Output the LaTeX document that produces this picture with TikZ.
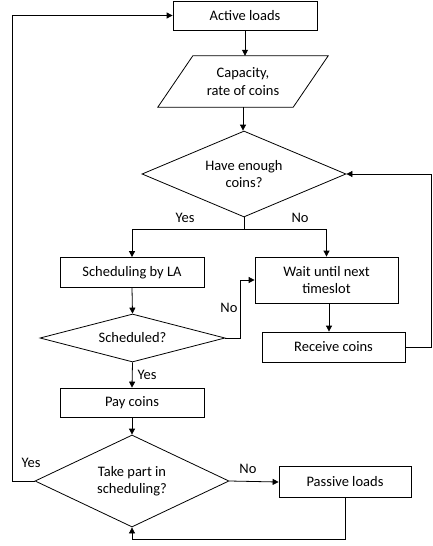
\documentclass[tikz,border=0pt]{standalone}
\usepackage{fontspec}
\setmainfont{Carlito}
\usetikzlibrary{shapes.geometric,arrows.meta}
\tikzset{
  x=1pt, y=-1pt,
  every node/.style={font=\fontsize{14.5}{17.5}\selectfont, text=black},
  box/.style={draw, rectangle, line width=0.8pt, align=center, inner sep=2pt},
  decision/.style={draw, diamond, line width=0.8pt, align=center, inner sep=0pt},
  link/.style={line width=0.8pt},
  flow/.style={link, -{Triangle[length=6pt,width=6pt]}},
  lbl/.style={inner sep=1pt}
}
\begin{document}
\begin{tikzpicture}
\useasboundingbox (0,0) rectangle (432,546);

% process steps
\node[box, minimum width=144, minimum height=29] (active) at (245,15.5) {Active loads};
\node[rectangle, minimum width=170, minimum height=51, align=center] (cap) at (243,81.5) {Capacity,\\rate of coins};
\draw[link] ([xshift=35pt]cap.north west) -- (cap.north east)
  -- ([xshift=-35pt]cap.south east) -- (cap.south west) -- cycle;
\node[decision, shape aspect=2.37, minimum width=204, minimum height=86] (enough) at (244,174) {Have enough\\coins?};
\node[box, minimum width=144, minimum height=30] (sched) at (132,272.5) {Scheduling by LA};
\node[box, minimum width=143, minimum height=46] (wait) at (326.5,280) {Wait until next\\timeslot};
\node[decision, shape aspect=3.85, minimum width=185, minimum height=48] (scheduled) at (132.5,338) {Scheduled?};
\node[box, minimum width=143, minimum height=30] (receive) at (333.5,347) {Receive coins};
\node[box, minimum width=144, minimum height=29] (pay) at (132,402.5) {Pay coins};
\node[decision, shape aspect=2.1, minimum width=194, minimum height=92] (take) at (132,481) {Take part in\\scheduling?};
\node[box, minimum width=132, minimum height=31] (passive) at (345,482) {Passive loads};

% connectors
\draw[flow] (active.south) -- (active.south |- cap.north);
\draw[flow] (cap.south) -- (cap.south |- enough.north);
\coordinate (split) at (244,229);
\draw[link] (enough.south) -- (split);
\draw[flow] (split) -| (sched.north);
\draw[flow] (split) -| (wait.north);
\node[lbl] (yes1) at (185,218) {Yes};
\node[lbl] (no1) at (300,218) {No};

\draw[flow] (sched.south) -- (scheduled.north);
\coordinate (nojog) at (240,338);
\draw[flow] (scheduled.east) -- (nojog) |- (wait.west);
\node[lbl] (no2) at (229,308) {No};

\draw[flow] ([xshift=2.5pt]wait.south) -- ([xshift=2.5pt]wait.south |- receive.north);
\coordinate (back) at (431,347);
\draw[flow] (receive.east) -- (back) |- (enough.east);

\draw[flow] (scheduled.south) -- (pay.north);
\node[lbl] (yes2) at (147,375) {Yes};

\draw[flow] (pay.south) -- (take.north);
\coordinate (loop) at (12,481);
\draw[flow] (take.west) -- (loop) |- (active.west);
\node[lbl] (yes3) at (31,463) {Yes};

\draw[flow] (take.east) -- (passive.west);
\node[lbl] (no3) at (248,469) {No};

\coordinate (under) at (345,539);
\draw[flow] (passive.south) -- (under) -| (take.south);
\end{tikzpicture}
\end{document}
